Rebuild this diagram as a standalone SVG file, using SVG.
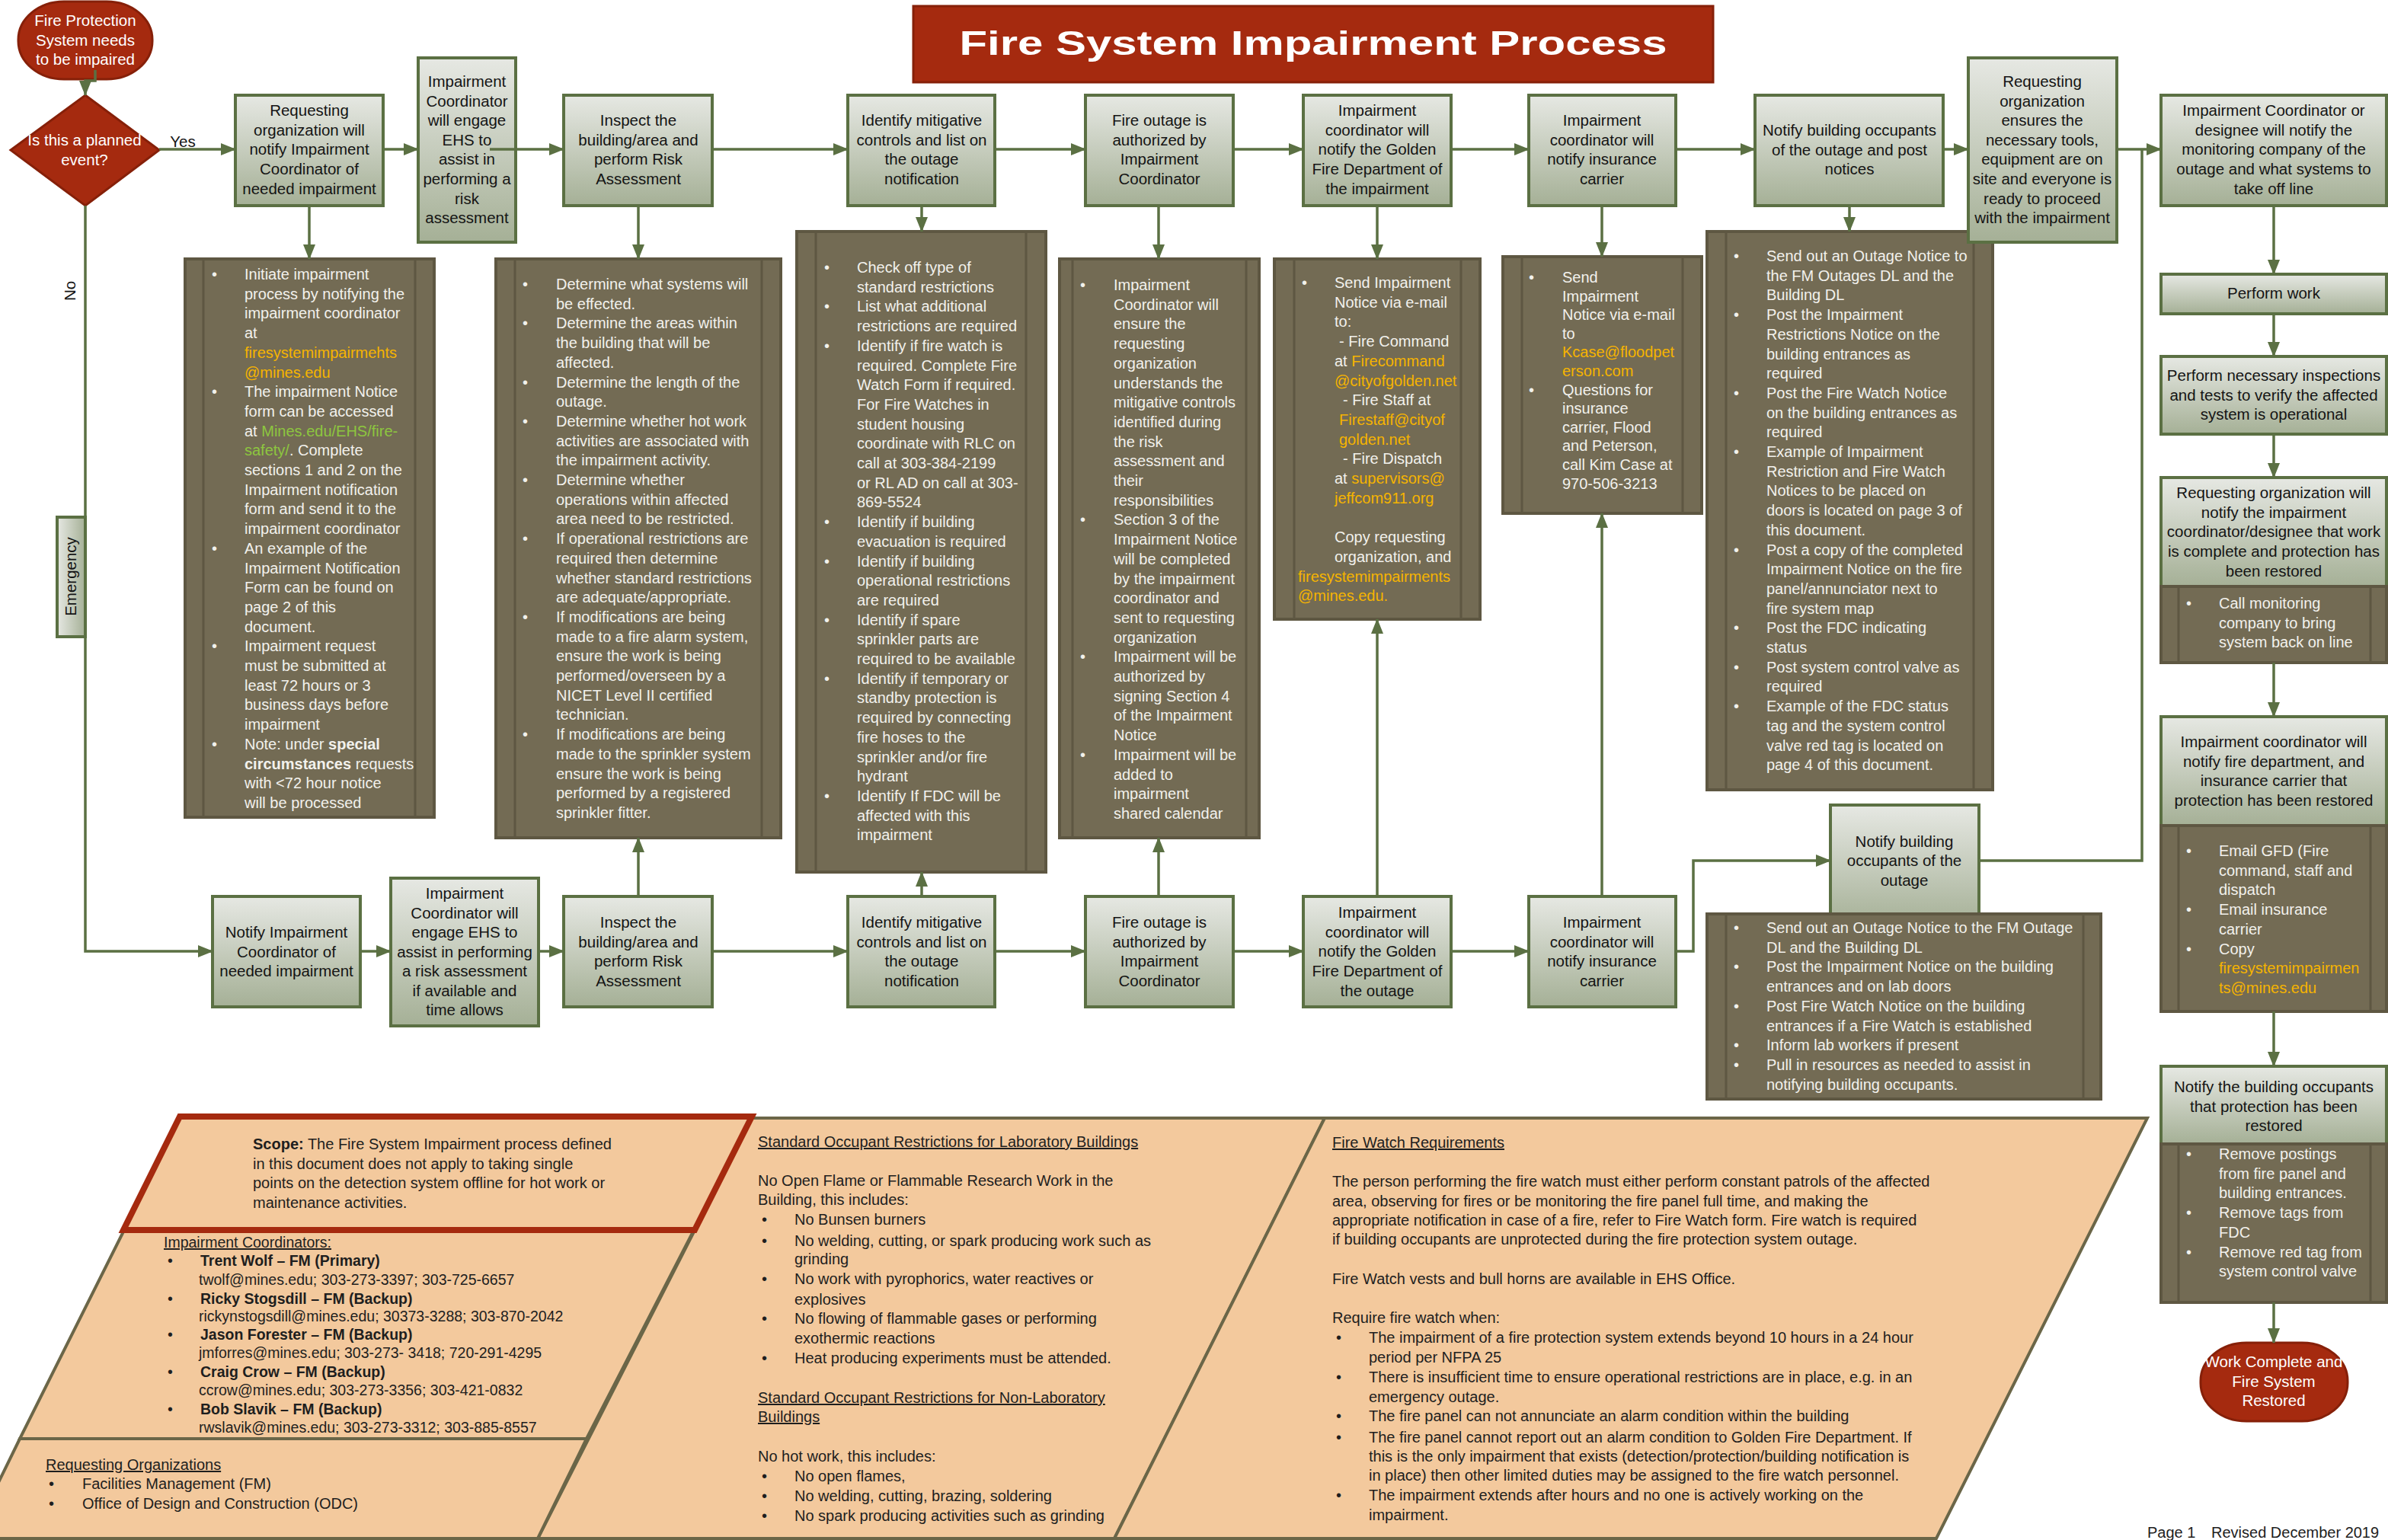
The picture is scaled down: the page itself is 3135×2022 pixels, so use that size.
<svg xmlns="http://www.w3.org/2000/svg" width="3135" height="2022" viewBox="0 0 3135 2022">
<defs>
<linearGradient id="g" x1="0" y1="0" x2="0" y2="1"><stop offset="0" stop-color="#e6e8e3"/><stop offset="1" stop-color="#a5b096"/></linearGradient>
<linearGradient id="gh" x1="0" y1="0" x2="1" y2="0"><stop offset="0" stop-color="#e6e8e3"/><stop offset="1" stop-color="#a5b096"/></linearGradient>
<marker id="ah" viewBox="0 0 20 16" refX="19" refY="8" markerWidth="20" markerHeight="16" orient="auto" markerUnits="userSpaceOnUse"><path d="M0,0 L20,8 L0,16 Z" fill="#5b7043"/></marker>
<style>
.nd{fill:url(#g);stroke:#5b7043;stroke-width:4}
.bx{fill:#736b54;stroke:#5e5742;stroke-width:4}
.il{stroke:#5e5742;stroke-width:3}
.cn{fill:none;stroke:#5b7043;stroke-width:3.5;marker-end:url(#ah)}
.ln{fill:none;stroke:#5b7043;stroke-width:3.5}
.red{fill:#a52a0f;stroke:#862009;stroke-width:3}
.pan{fill:#f3c99d;stroke:#6b6648;stroke-width:4}
text{font-family:"Liberation Sans",Arial,sans-serif}
.nt{font-size:20.5px;fill:#141414;text-anchor:middle}
.wt{font-size:20.5px;fill:#ffffff;text-anchor:middle}
.bt{font-size:20px;fill:#f2f1ec}
.or{fill:#f6b400}
.gr{fill:#8dc63f}
.pt{font-size:20px;fill:#1e1e1e}
.ct{font-size:19.5px;fill:#1e1e1e}
.b{font-weight:bold}
.u{text-decoration:underline}
</style>
</defs>
<rect x="0" y="0" width="3135" height="2022" fill="#ffffff"/>

<g id="title"><rect class="red" x="1199" y="8" width="1050" height="100"/><text x="1724" y="72" text-anchor="middle" font-family="DejaVu Serif, serif" font-weight="bold" font-size="44" fill="#ffffff" textLength="929" lengthAdjust="spacingAndGlyphs">Fire System Impairment Process</text></g>

<g id="panel_middle"><polygon class="pan" points="987,1468 1739,1468 1463,2020 706,2020"/>
<text class="pt"><tspan class="u" x="995" y="1506">Standard Occupant Restrictions for Laboratory Buildings</tspan>
<tspan x="995" y="1557">No Open Flame or Flammable Research Work in the</tspan>
<tspan x="995" y="1582">Building, this includes:</tspan>
<tspan x="1000" y="1608">•</tspan><tspan x="1043">No Bunsen burners</tspan>
<tspan x="1000" y="1636">•</tspan><tspan x="1043">No welding, cutting, or spark producing work such as</tspan>
<tspan x="1043" y="1660">grinding</tspan>
<tspan x="1000" y="1686">•</tspan><tspan x="1043">No work with pyrophorics, water reactives or</tspan>
<tspan x="1043" y="1713">explosives</tspan>
<tspan x="1000" y="1738">•</tspan><tspan x="1043">No flowing of flammable gases or performing</tspan>
<tspan x="1043" y="1764">exothermic reactions</tspan>
<tspan x="1000" y="1790">•</tspan><tspan x="1043">Heat producing experiments must be attended.</tspan>
<tspan class="u" x="995" y="1842">Standard Occupant Restrictions for Non-Laboratory</tspan>
<tspan class="u" x="995" y="1867">Buildings</tspan>
<tspan x="995" y="1919">No hot work, this includes:</tspan>
<tspan x="1000" y="1945">•</tspan><tspan x="1043">No open flames,</tspan>
<tspan x="1000" y="1971">•</tspan><tspan x="1043">No welding, cutting, brazing, soldering</tspan>
<tspan x="1000" y="1997">•</tspan><tspan x="1043">No spark producing activities such as grinding</tspan></text></g>

<g id="panel_firewatch"><polygon class="pan" points="1739,1468 2819,1468 2542,2020 1463,2020"/>
<text class="pt"><tspan class="u" x="1749" y="1507">Fire Watch Requirements</tspan>
<tspan x="1749" y="1558">The person performing the fire watch must either perform constant patrols of the affected</tspan>
<tspan x="1749" y="1584">area, observing for fires or be monitoring the fire panel full time,  and making the</tspan>
<tspan x="1749" y="1609">appropriate notification in case of a fire, refer to Fire Watch form.   Fire watch is required</tspan>
<tspan x="1749" y="1634">if building occupants are unprotected during the fire protection system outage.</tspan>
<tspan x="1749" y="1686">Fire Watch vests and bull horns are available in EHS Office.</tspan>
<tspan x="1749" y="1737">Require fire watch when:</tspan>
<tspan x="1754" y="1763">•</tspan><tspan x="1797">The impairment of a fire protection system extends beyond 10 hours in a 24 hour</tspan>
<tspan x="1797" y="1789">period per NFPA 25</tspan>
<tspan x="1754" y="1815">•</tspan><tspan x="1797">There is insufficient time to ensure operational restrictions are in place, e.g. in an</tspan>
<tspan x="1797" y="1841">emergency outage.</tspan>
<tspan x="1754" y="1866">•</tspan><tspan x="1797">The fire panel can not annunciate an alarm condition within the building</tspan>
<tspan x="1754" y="1894">•</tspan><tspan x="1797">The fire panel cannot report out an alarm condition to Golden Fire Department. If</tspan>
<tspan x="1797" y="1919">this is the only impairment that exists (detection/protection/building notification is</tspan>
<tspan x="1797" y="1944">in place) then other limited duties may be assigned to the fire watch personnel.</tspan>
<tspan x="1754" y="1970">•</tspan><tspan x="1797">The impairment extends after hours and no one is actively working on the</tspan>
<tspan x="1797" y="1996">impairment.</tspan></text></g>

<g id="panel_coordinators"><polygon class="pan" points="162,1617 910,1617 770,1889 26,1889"/>
<text class="ct"><tspan class="u" x="215" y="1638">Impairment Coordinators:</tspan>
<tspan x="220" y="1662">•</tspan><tspan x="263" class="b">Trent Wolf – FM (Primary)</tspan>
<tspan x="261" y="1687">twolf@mines.edu; 303-273-3397; 303-725-6657</tspan>
<tspan x="220" y="1712">•</tspan><tspan x="263" class="b">Ricky Stogsdill – FM (Backup)</tspan>
<tspan x="261" y="1735">rickynstogsdill@mines.edu; 30373-3288; 303-870-2042</tspan>
<tspan x="220" y="1759">•</tspan><tspan x="263" class="b">Jason Forester – FM (Backup)</tspan>
<tspan x="261" y="1783">jmforres@mines.edu; 303-273- 3418; 720-291-4295</tspan>
<tspan x="220" y="1808">•</tspan><tspan x="263" class="b">Craig Crow – FM (Backup)</tspan>
<tspan x="261" y="1832">ccrow@mines.edu; 303-273-3356; 303-421-0832</tspan>
<tspan x="220" y="1857">•</tspan><tspan x="263" class="b">Bob Slavik – FM (Backup)</tspan>
<tspan x="261" y="1881">rwslavik@mines.edu; 303-273-3312; 303-885-8557</tspan></text></g>

<g id="panel_requesting"><polygon class="pan" points="26,1889 770,1889 706,2020 -38,2020"/>
<text class="pt"><tspan class="u" x="60" y="1930">Requesting Organizations</tspan>
<tspan x="64" y="1955">•</tspan><tspan x="108">Facilities Management (FM)</tspan>
<tspan x="64" y="1981">•</tspan><tspan x="108">Office of Design and Construction (ODC)</tspan></text></g>

<g id="panel_scope"><polygon points="236,1466 987,1466 912,1615 162,1615" fill="#f3c99d" stroke="#a52a0f" stroke-width="8"/>
<text class="pt"><tspan x="332" y="1509"><tspan class="b">Scope:</tspan> The Fire System Impairment process defined</tspan>
<tspan x="332" y="1535">in this document does not apply to taking single</tspan>
<tspan x="332" y="1560">points on the detection system offline for hot work  or</tspan>
<tspan x="332" y="1586">maintenance activities.</tspan></text></g>

<g id="d1"><rect class="bx" x="243" y="340" width="327" height="733"/><line class="il" x1="267" y1="342" x2="267" y2="1071"/><line class="il" x1="545" y1="342" x2="545" y2="1071"/>
<text class="bt" y="367"><tspan x="278" dy="0">•</tspan><tspan x="321">Initiate impairment</tspan>
<tspan x="321" dy="25.7">process by notifying the</tspan>
<tspan x="321" dy="25.7">impairment coordinator</tspan>
<tspan x="321" dy="25.7">at</tspan>
<tspan x="321" dy="25.7" class="or">firesystemimpairmehts</tspan>
<tspan x="321" dy="25.7" class="or">@mines.edu</tspan>
<tspan x="278" dy="25.7">•</tspan><tspan x="321">The impairment Notice</tspan>
<tspan x="321" dy="25.7">form can be accessed</tspan>
<tspan x="321" dy="25.7">at <tspan class="gr">Mines.edu/EHS/fire-</tspan></tspan>
<tspan x="321" dy="25.7"><tspan class="gr">safety/</tspan>. Complete</tspan>
<tspan x="321" dy="25.7">sections 1 and 2 on the</tspan>
<tspan x="321" dy="25.7">Impairment notification</tspan>
<tspan x="321" dy="25.7">form and send it to the</tspan>
<tspan x="321" dy="25.7">impairment coordinator</tspan>
<tspan x="278" dy="25.7">•</tspan><tspan x="321">An example of the</tspan>
<tspan x="321" dy="25.7">Impairment Notification</tspan>
<tspan x="321" dy="25.7">Form can be found on</tspan>
<tspan x="321" dy="25.7">page 2 of this</tspan>
<tspan x="321" dy="25.7">document.</tspan>
<tspan x="278" dy="25.7">•</tspan><tspan x="321">Impairment request</tspan>
<tspan x="321" dy="25.7">must be submitted at</tspan>
<tspan x="321" dy="25.7">least 72 hours or 3</tspan>
<tspan x="321" dy="25.7">business days before</tspan>
<tspan x="321" dy="25.7">impairment</tspan>
<tspan x="278" dy="25.7">•</tspan><tspan x="321">Note: under <tspan class="b">special</tspan></tspan>
<tspan x="321" dy="25.7"><tspan class="b">circumstances</tspan> requests</tspan>
<tspan x="321" dy="25.7">with &lt;72 hour notice</tspan>
<tspan x="321" dy="25.7">will be processed</tspan></text></g>

<g id="d2"><rect class="bx" x="651" y="340" width="374" height="760"/><line class="il" x1="676" y1="342" x2="676" y2="1098"/><line class="il" x1="1000" y1="342" x2="1000" y2="1098"/>
<text class="bt" y="380"><tspan x="686" dy="0">•</tspan><tspan x="730">Determine what systems will</tspan>
<tspan x="730" dy="25.7">be effected.</tspan>
<tspan x="686" dy="25.7">•</tspan><tspan x="730">Determine the areas within</tspan>
<tspan x="730" dy="25.7">the building that will be</tspan>
<tspan x="730" dy="25.7">affected.</tspan>
<tspan x="686" dy="25.7">•</tspan><tspan x="730">Determine the length of the</tspan>
<tspan x="730" dy="25.7">outage.</tspan>
<tspan x="686" dy="25.7">•</tspan><tspan x="730">Determine whether hot work</tspan>
<tspan x="730" dy="25.7">activities are associated with</tspan>
<tspan x="730" dy="25.7">the impairment activity.</tspan>
<tspan x="686" dy="25.7">•</tspan><tspan x="730">Determine whether</tspan>
<tspan x="730" dy="25.7">operations within affected</tspan>
<tspan x="730" dy="25.7">area need to be restricted.</tspan>
<tspan x="686" dy="25.7">•</tspan><tspan x="730">If operational restrictions are</tspan>
<tspan x="730" dy="25.7">required then determine</tspan>
<tspan x="730" dy="25.7">whether standard restrictions</tspan>
<tspan x="730" dy="25.7">are adequate/appropriate.</tspan>
<tspan x="686" dy="25.7">•</tspan><tspan x="730">If modifications are being</tspan>
<tspan x="730" dy="25.7">made to a fire alarm system,</tspan>
<tspan x="730" dy="25.7">ensure the work is being</tspan>
<tspan x="730" dy="25.7">performed/overseen by a</tspan>
<tspan x="730" dy="25.7">NICET Level II certified</tspan>
<tspan x="730" dy="25.7">technician.</tspan>
<tspan x="686" dy="25.7">•</tspan><tspan x="730">If modifications are being</tspan>
<tspan x="730" dy="25.7">made to the sprinkler system</tspan>
<tspan x="730" dy="25.7">ensure the work is being</tspan>
<tspan x="730" dy="25.7">performed by a registered</tspan>
<tspan x="730" dy="25.7">sprinkler fitter.</tspan></text></g>

<g id="d3"><rect class="bx" x="1046" y="304" width="327" height="841"/><line class="il" x1="1071" y1="306" x2="1071" y2="1143"/><line class="il" x1="1347" y1="306" x2="1347" y2="1143"/>
<text class="bt" y="358"><tspan x="1082" dy="0">•</tspan><tspan x="1125">Check off type of</tspan>
<tspan x="1125" dy="25.7">standard restrictions</tspan>
<tspan x="1082" dy="25.7">•</tspan><tspan x="1125">List what additional</tspan>
<tspan x="1125" dy="25.7">restrictions are required</tspan>
<tspan x="1082" dy="25.7">•</tspan><tspan x="1125">Identify if fire watch is</tspan>
<tspan x="1125" dy="25.7">required. Complete Fire</tspan>
<tspan x="1125" dy="25.7">Watch Form if required.</tspan>
<tspan x="1125" dy="25.7">For Fire Watches in</tspan>
<tspan x="1125" dy="25.7">student housing</tspan>
<tspan x="1125" dy="25.7">coordinate with RLC on</tspan>
<tspan x="1125" dy="25.7">call at 303-384-2199</tspan>
<tspan x="1125" dy="25.7">or RL AD on call at 303-</tspan>
<tspan x="1125" dy="25.7">869-5524</tspan>
<tspan x="1082" dy="25.7">•</tspan><tspan x="1125">Identify if building</tspan>
<tspan x="1125" dy="25.7">evacuation is required</tspan>
<tspan x="1082" dy="25.7">•</tspan><tspan x="1125">Identify if building</tspan>
<tspan x="1125" dy="25.7">operational restrictions</tspan>
<tspan x="1125" dy="25.7">are required</tspan>
<tspan x="1082" dy="25.7">•</tspan><tspan x="1125">Identify if spare</tspan>
<tspan x="1125" dy="25.7">sprinkler parts are</tspan>
<tspan x="1125" dy="25.7">required to be available</tspan>
<tspan x="1082" dy="25.7">•</tspan><tspan x="1125">Identify if  temporary or</tspan>
<tspan x="1125" dy="25.7">standby protection is</tspan>
<tspan x="1125" dy="25.7">required by connecting</tspan>
<tspan x="1125" dy="25.7">fire hoses to the</tspan>
<tspan x="1125" dy="25.7">sprinkler and/or fire</tspan>
<tspan x="1125" dy="25.7">hydrant</tspan>
<tspan x="1082" dy="25.7">•</tspan><tspan x="1125">Identify If FDC will be</tspan>
<tspan x="1125" dy="25.7">affected with this</tspan>
<tspan x="1125" dy="25.7">impairment</tspan></text></g>

<g id="d4"><rect class="bx" x="1391" y="340" width="262" height="760"/><line class="il" x1="1408" y1="342" x2="1408" y2="1098"/><line class="il" x1="1636" y1="342" x2="1636" y2="1098"/>
<text class="bt" y="381"><tspan x="1418" dy="0">•</tspan><tspan x="1462">Impairment</tspan>
<tspan x="1462" dy="25.7">Coordinator will</tspan>
<tspan x="1462" dy="25.7">ensure the</tspan>
<tspan x="1462" dy="25.7">requesting</tspan>
<tspan x="1462" dy="25.7">organization</tspan>
<tspan x="1462" dy="25.7">understands the</tspan>
<tspan x="1462" dy="25.7">mitigative controls</tspan>
<tspan x="1462" dy="25.7">identified during</tspan>
<tspan x="1462" dy="25.7">the risk</tspan>
<tspan x="1462" dy="25.7">assessment and</tspan>
<tspan x="1462" dy="25.7">their</tspan>
<tspan x="1462" dy="25.7">responsibilities</tspan>
<tspan x="1418" dy="25.7">•</tspan><tspan x="1462">Section 3 of the</tspan>
<tspan x="1462" dy="25.7">Impairment Notice</tspan>
<tspan x="1462" dy="25.7">will be completed</tspan>
<tspan x="1462" dy="25.7">by the impairment</tspan>
<tspan x="1462" dy="25.7">coordinator and</tspan>
<tspan x="1462" dy="25.7">sent to requesting</tspan>
<tspan x="1462" dy="25.7">organization</tspan>
<tspan x="1418" dy="25.7">•</tspan><tspan x="1462">Impairment will be</tspan>
<tspan x="1462" dy="25.7">authorized by</tspan>
<tspan x="1462" dy="25.7">signing Section 4</tspan>
<tspan x="1462" dy="25.7">of the Impairment</tspan>
<tspan x="1462" dy="25.7">Notice</tspan>
<tspan x="1418" dy="25.7">•</tspan><tspan x="1462">Impairment will be</tspan>
<tspan x="1462" dy="25.7">added to</tspan>
<tspan x="1462" dy="25.7">impairment</tspan>
<tspan x="1462" dy="25.7">shared calendar</tspan></text></g>

<g id="d5"><rect class="bx" x="1673" y="340" width="270" height="473"/><line class="il" x1="1699" y1="342" x2="1699" y2="811"/><line class="il" x1="1918" y1="342" x2="1918" y2="811"/>
<text class="bt" y="378"><tspan x="1709" dy="0">•</tspan><tspan x="1752">Send Impairment</tspan>
<tspan x="1752" dy="25.7">Notice via e-mail</tspan>
<tspan x="1752" dy="25.7">to:</tspan>
<tspan x="1758" dy="25.7">-  Fire Command</tspan>
<tspan x="1752" dy="25.7">at <tspan class="or">Firecommand</tspan></tspan>
<tspan x="1752" dy="25.7" class="or">@cityofgolden.net</tspan>
<tspan x="1763" dy="25.7">- Fire Staff at</tspan>
<tspan x="1758" dy="25.7" class="or">Firestaff@cityof</tspan>
<tspan x="1758" dy="25.7" class="or">golden.net</tspan>
<tspan x="1763" dy="25.7">- Fire Dispatch</tspan>
<tspan x="1752" dy="25.7">at <tspan class="or">supervisors@</tspan></tspan>
<tspan x="1752" dy="25.7" class="or">jeffcom911.org</tspan>
<tspan x="1752" dy="51.4">Copy requesting</tspan>
<tspan x="1752" dy="25.7">organization, and</tspan>
<tspan x="1704" dy="25.7" class="or">firesystemimpairments</tspan>
<tspan x="1704" dy="25.7" class="or">@mines.edu.</tspan></text></g>

<g id="d6"><rect class="bx" x="1973" y="337" width="261" height="337"/><line class="il" x1="1998" y1="339" x2="1998" y2="672"/><line class="il" x1="2209" y1="339" x2="2209" y2="672"/>
<text class="bt" y="371"><tspan x="2007" dy="0">•</tspan><tspan x="2051">Send</tspan>
<tspan x="2051" dy="24.6">Impairment</tspan>
<tspan x="2051" dy="24.6">Notice via e-mail</tspan>
<tspan x="2051" dy="24.6">to</tspan>
<tspan x="2051" dy="24.6" class="or">Kcase@floodpet</tspan>
<tspan x="2051" dy="24.6" class="or">erson.com</tspan>
<tspan x="2007" dy="24.6">•</tspan><tspan x="2051">Questions for</tspan>
<tspan x="2051" dy="24.6">insurance</tspan>
<tspan x="2051" dy="24.6">carrier, Flood</tspan>
<tspan x="2051" dy="24.6">and Peterson,</tspan>
<tspan x="2051" dy="24.6">call Kim Case at</tspan>
<tspan x="2051" dy="24.6">970-506-3213</tspan></text></g>

<g id="d7"><rect class="bx" x="2241" y="304" width="375" height="733"/><line class="il" x1="2266" y1="306" x2="2266" y2="1035"/><line class="il" x1="2591" y1="306" x2="2591" y2="1035"/>
<text class="bt" y="343"><tspan x="2276" dy="0">•</tspan><tspan x="2319">Send out an Outage Notice to</tspan>
<tspan x="2319" dy="25.7">the FM Outages DL  and the</tspan>
<tspan x="2319" dy="25.7">Building DL</tspan>
<tspan x="2276" dy="25.7">•</tspan><tspan x="2319">Post the Impairment</tspan>
<tspan x="2319" dy="25.7">Restrictions Notice on the</tspan>
<tspan x="2319" dy="25.7">building entrances as</tspan>
<tspan x="2319" dy="25.7">required</tspan>
<tspan x="2276" dy="25.7">•</tspan><tspan x="2319">Post the Fire Watch Notice</tspan>
<tspan x="2319" dy="25.7">on the building entrances as</tspan>
<tspan x="2319" dy="25.7">required</tspan>
<tspan x="2276" dy="25.7">•</tspan><tspan x="2319">Example of Impairment</tspan>
<tspan x="2319" dy="25.7">Restriction  and Fire Watch</tspan>
<tspan x="2319" dy="25.7">Notices to be placed on</tspan>
<tspan x="2319" dy="25.7">doors is located on page 3 of</tspan>
<tspan x="2319" dy="25.7">this document.</tspan>
<tspan x="2276" dy="25.7">•</tspan><tspan x="2319">Post a copy of the completed</tspan>
<tspan x="2319" dy="25.7">Impairment Notice on the fire</tspan>
<tspan x="2319" dy="25.7">panel/annunciator next to</tspan>
<tspan x="2319" dy="25.7">fire system  map</tspan>
<tspan x="2276" dy="25.7">•</tspan><tspan x="2319">Post the FDC indicating</tspan>
<tspan x="2319" dy="25.7">status</tspan>
<tspan x="2276" dy="25.7">•</tspan><tspan x="2319">Post system control valve as</tspan>
<tspan x="2319" dy="25.7">required</tspan>
<tspan x="2276" dy="25.7">•</tspan><tspan x="2319">Example of the FDC status</tspan>
<tspan x="2319" dy="25.7">tag and the system control</tspan>
<tspan x="2319" dy="25.7">valve red tag is located on</tspan>
<tspan x="2319" dy="25.7">page 4 of this document.</tspan></text></g>

<g id="n_start"><rect class="red" x="24" y="2" width="176" height="102" rx="60" ry="50"/><text class="wt" font-size="21"><tspan x="112" y="34">Fire Protection</tspan><tspan x="112" dy="25.7">System needs</tspan><tspan x="112" dy="25.7">to be impaired</tspan></text></g>
<g id="n_decision"><polygon class="red" points="112,125 209,197 112,270 14,197"/><text class="wt"><tspan x="111" y="191">Is this a planned</tspan><tspan x="111" dy="25.7">event?</tspan></text></g>
<g id="n_req"><rect class="nd" x="309" y="125" width="194" height="145"/><text class="nt"><tspan x="406" y="152">Requesting</tspan><tspan x="406" dy="25.7">organization will</tspan><tspan x="406" dy="25.7">notify Impairment</tspan><tspan x="406" dy="25.7">Coordinator of</tspan><tspan x="406" dy="25.7">needed impairment</tspan></text></g>
<g id="n_ehs"><rect class="nd" x="549" y="76" width="128" height="242"/><text class="nt"><tspan x="613" y="114">Impairment</tspan><tspan x="613" dy="25.6">Coordinator</tspan><tspan x="613" dy="25.6">will engage</tspan><tspan x="613" dy="25.6">EHS to</tspan><tspan x="613" dy="25.6">assist in</tspan><tspan x="613" dy="25.6">performing a</tspan><tspan x="613" dy="25.6">risk</tspan><tspan x="613" dy="25.6">assessment</tspan></text></g>
<g id="n_inspect"><rect class="nd" x="740" y="125" width="195" height="145"/><text class="nt"><tspan x="838" y="165">Inspect the</tspan><tspan x="838" dy="25.7">building/area and</tspan><tspan x="838" dy="25.7">perform Risk</tspan><tspan x="838" dy="25.7">Assessment</tspan></text></g>
<g id="n_mitigate"><rect class="nd" x="1113" y="125" width="193" height="145"/><text class="nt"><tspan x="1210" y="165">Identify mitigative</tspan><tspan x="1210" dy="25.7">controls and list on</tspan><tspan x="1210" dy="25.7">the outage</tspan><tspan x="1210" dy="25.7">notification</tspan></text></g>
<g id="n_authorize"><rect class="nd" x="1425" y="125" width="194" height="145"/><text class="nt"><tspan x="1522" y="165">Fire outage is</tspan><tspan x="1522" dy="25.7">authorized by</tspan><tspan x="1522" dy="25.7">Impairment</tspan><tspan x="1522" dy="25.7">Coordinator</tspan></text></g>
<g id="n_golden"><rect class="nd" x="1711" y="125" width="194" height="145"/><text class="nt"><tspan x="1808" y="152">Impairment</tspan><tspan x="1808" dy="25.7">coordinator will</tspan><tspan x="1808" dy="25.7">notify the Golden</tspan><tspan x="1808" dy="25.7">Fire Department of</tspan><tspan x="1808" dy="25.7">the impairment</tspan></text></g>
<g id="n_insurance"><rect class="nd" x="2007" y="125" width="193" height="145"/><text class="nt"><tspan x="2103" y="165">Impairment</tspan><tspan x="2103" dy="25.7">coordinator will</tspan><tspan x="2103" dy="25.7">notify  insurance</tspan><tspan x="2103" dy="25.7">carrier</tspan></text></g>
<g id="n_occupants"><rect class="nd" x="2304" y="125" width="247" height="145"/><text class="nt"><tspan x="2428" y="178">Notify building occupants</tspan><tspan x="2428" dy="25.7">of the outage and post</tspan><tspan x="2428" dy="25.7">notices</tspan></text></g>
<g id="n_tools"><rect class="nd" x="2584" y="76" width="195" height="242"/><text class="nt"><tspan x="2681" y="114">Requesting</tspan><tspan x="2681" dy="25.6">organization</tspan><tspan x="2681" dy="25.6">ensures the</tspan><tspan x="2681" dy="25.6">necessary tools,</tspan><tspan x="2681" dy="25.6">equipment are on</tspan><tspan x="2681" dy="25.6">site and everyone is</tspan><tspan x="2681" dy="25.6">ready to proceed</tspan><tspan x="2681" dy="25.6">with the impairment</tspan></text></g>
<g id="n_monitor"><rect class="nd" x="2837" y="125" width="296" height="145"/><text class="nt"><tspan x="2985" y="152">Impairment Coordinator or</tspan><tspan x="2985" dy="25.7">designee will notify the</tspan><tspan x="2985" dy="25.7">monitoring company of the</tspan><tspan x="2985" dy="25.7">outage and what systems to</tspan><tspan x="2985" dy="25.7">take off line</tspan></text></g>
<g id="n_work"><rect class="nd" x="2837" y="360" width="296" height="52"/><text class="nt" x="2985" y="392">Perform work</text></g>
<g id="n_tests"><rect class="nd" x="2837" y="468" width="296" height="102"/><text class="nt"><tspan x="2985" y="500">Perform necessary inspections</tspan><tspan x="2985" dy="25.7">and tests to verify the affected</tspan><tspan x="2985" dy="25.7">system is operational</tspan></text></g>
<g id="n_complete"><rect class="nd" x="2837" y="627" width="296" height="143"/><text class="nt"><tspan x="2985" y="654">Requesting organization will</tspan><tspan x="2985" dy="25.7">notify the  impairment</tspan><tspan x="2985" dy="25.7">coordinator/designee that work</tspan><tspan x="2985" dy="25.7">is complete and protection has</tspan><tspan x="2985" dy="25.7">been restored</tspan></text>
<rect class="bx" x="2837" y="770" width="296" height="100"/><line class="il" x1="2860" y1="772" x2="2860" y2="868"/><line class="il" x1="3112" y1="772" x2="3112" y2="868"/>
<text class="bt" y="799"><tspan x="2870" dy="0">•</tspan><tspan x="2913">Call monitoring</tspan><tspan x="2913" dy="25.7">company to bring</tspan><tspan x="2913" dy="25.7">system back on line</tspan></text></g>
<g id="n_restored"><rect class="nd" x="2837" y="941" width="296" height="143"/><text class="nt"><tspan x="2985" y="981">Impairment coordinator will</tspan><tspan x="2985" dy="25.7">notify  fire department, and</tspan><tspan x="2985" dy="25.7">insurance carrier  that</tspan><tspan x="2985" dy="25.7">protection has been restored</tspan></text>
<rect class="bx" x="2837" y="1084" width="296" height="244"/><line class="il" x1="2860" y1="1086" x2="2860" y2="1326"/><line class="il" x1="3112" y1="1086" x2="3112" y2="1326"/>
<text class="bt" y="1124"><tspan x="2870" dy="0">•</tspan><tspan x="2913">Email GFD (Fire</tspan><tspan x="2913" dy="25.7">command, staff and</tspan><tspan x="2913" dy="25.7">dispatch</tspan><tspan x="2870" dy="25.7">•</tspan><tspan x="2913">Email insurance</tspan><tspan x="2913" dy="25.7">carrier</tspan><tspan x="2870" dy="25.7">•</tspan><tspan x="2913">Copy</tspan><tspan x="2913" dy="25.7" class="or">firesystemimpairmen</tspan><tspan x="2913" dy="25.7" class="or">ts@mines.edu</tspan></text></g>
<g id="n_notify_restored"><rect class="nd" x="2837" y="1400" width="296" height="102"/><text class="nt"><tspan x="2985" y="1434">Notify the  building occupants</tspan><tspan x="2985" dy="25.7">that protection has been</tspan><tspan x="2985" dy="25.7">restored</tspan></text>
<rect class="bx" x="2837" y="1502" width="296" height="208"/><line class="il" x1="2860" y1="1504" x2="2860" y2="1708"/><line class="il" x1="3112" y1="1504" x2="3112" y2="1708"/>
<text class="bt" y="1522"><tspan x="2870" dy="0">•</tspan><tspan x="2913">Remove postings</tspan><tspan x="2913" dy="25.7">from fire panel and</tspan><tspan x="2913" dy="25.7">building entrances.</tspan><tspan x="2870" dy="25.7">•</tspan><tspan x="2913">Remove tags from</tspan><tspan x="2913" dy="25.7">FDC</tspan><tspan x="2870" dy="25.7">•</tspan><tspan x="2913">Remove red tag from</tspan><tspan x="2913" dy="25.7">system control valve</tspan></text></g>
<g id="n_end"><rect class="red" x="2889" y="1763" width="193" height="103" rx="60" ry="50"/><text class="wt"><tspan x="2985" y="1795">Work Complete and</tspan><tspan x="2985" dy="25.7">Fire System</tspan><tspan x="2985" dy="25.7">Restored</tspan></text></g>

<g id="n_emergency"><rect x="75" y="679" width="37" height="157" fill="url(#gh)" stroke="#5b7043" stroke-width="4"/><text class="nt" x="93" y="764" transform="rotate(-90 93 757)">Emergency</text></g>
<g id="e_notify"><rect class="nd" x="279" y="1177" width="194" height="145"/><text class="nt"><tspan x="376" y="1231">Notify Impairment</tspan><tspan x="376" dy="25.7">Coordinator of</tspan><tspan x="376" dy="25.7">needed impairment</tspan></text></g>
<g id="e_ehs"><rect class="nd" x="513" y="1153" width="194" height="194"/><text class="nt"><tspan x="610" y="1180">Impairment</tspan><tspan x="610" dy="25.5">Coordinator will</tspan><tspan x="610" dy="25.5">engage EHS to</tspan><tspan x="610" dy="25.5">assist in performing</tspan><tspan x="610" dy="25.5">a risk assessment</tspan><tspan x="610" dy="25.5">if available and</tspan><tspan x="610" dy="25.5">time allows</tspan></text></g>
<g id="e_inspect"><rect class="nd" x="740" y="1177" width="195" height="145"/><text class="nt"><tspan x="838" y="1218">Inspect the</tspan><tspan x="838" dy="25.7">building/area and</tspan><tspan x="838" dy="25.7">perform Risk</tspan><tspan x="838" dy="25.7">Assessment</tspan></text></g>
<g id="e_mitigate"><rect class="nd" x="1113" y="1177" width="193" height="145"/><text class="nt"><tspan x="1210" y="1218">Identify mitigative</tspan><tspan x="1210" dy="25.7">controls and list on</tspan><tspan x="1210" dy="25.7">the outage</tspan><tspan x="1210" dy="25.7">notification</tspan></text></g>
<g id="e_authorize"><rect class="nd" x="1425" y="1177" width="194" height="145"/><text class="nt"><tspan x="1522" y="1218">Fire outage is</tspan><tspan x="1522" dy="25.7">authorized by</tspan><tspan x="1522" dy="25.7">Impairment</tspan><tspan x="1522" dy="25.7">Coordinator</tspan></text></g>
<g id="e_golden"><rect class="nd" x="1711" y="1177" width="194" height="145"/><text class="nt"><tspan x="1808" y="1205">Impairment</tspan><tspan x="1808" dy="25.7">coordinator will</tspan><tspan x="1808" dy="25.7">notify the Golden</tspan><tspan x="1808" dy="25.7">Fire Department of</tspan><tspan x="1808" dy="25.7">the outage</tspan></text></g>
<g id="e_insurance"><rect class="nd" x="2007" y="1177" width="193" height="145"/><text class="nt"><tspan x="2103" y="1218">Impairment</tspan><tspan x="2103" dy="25.7">coordinator will</tspan><tspan x="2103" dy="25.7">notify insurance</tspan><tspan x="2103" dy="25.7">carrier</tspan></text></g>
<g id="e_occupants"><rect class="nd" x="2403" y="1057" width="195" height="160"/><text class="nt"><tspan x="2500" y="1112">Notify building</tspan><tspan x="2500" dy="25.3">occupants of the</tspan><tspan x="2500" dy="25.3">outage</tspan></text></g>

<g id="d8"><rect class="bx" x="2241" y="1200" width="517" height="243"/><line class="il" x1="2266" y1="1202" x2="2266" y2="1441"/><line class="il" x1="2735" y1="1202" x2="2735" y2="1441"/>
<text class="bt" y="1225"><tspan x="2276" dy="0">•</tspan><tspan x="2319">Send out an Outage Notice to the FM Outage</tspan>
<tspan x="2319" dy="25.7">DL and the Building DL</tspan>
<tspan x="2276" dy="25.7">•</tspan><tspan x="2319">Post the Impairment Notice on the building</tspan>
<tspan x="2319" dy="25.7">entrances and on lab doors</tspan>
<tspan x="2276" dy="25.7">•</tspan><tspan x="2319">Post Fire Watch Notice on the building</tspan>
<tspan x="2319" dy="25.7">entrances if a Fire Watch is established</tspan>
<tspan x="2276" dy="25.7">•</tspan><tspan x="2319">Inform lab workers if present</tspan>
<tspan x="2276" dy="25.7">•</tspan><tspan x="2319">Pull in resources as needed to assist in</tspan>
<tspan x="2319" dy="25.7">notifying building occupants.</tspan></text></g>

<g id="connectors">
<path class="cn" d="M125,92 V106 H112 V125"/>
<path class="cn" d="M209,196 H309"/>
<path class="cn" d="M503,196 H549"/>
<path class="cn" d="M643,196 H740"/>
<path class="cn" d="M935,196 H1113"/>
<path class="cn" d="M1306,196 H1425"/>
<path class="cn" d="M1619,196 H1711"/>
<path class="cn" d="M1905,196 H2007"/>
<path class="cn" d="M2200,196 H2304"/>
<path class="cn" d="M2551,196 H2584"/>
<path class="cn" d="M2779,196 H2837"/>
<path class="cn" d="M406,270 V340"/>
<path class="cn" d="M838,270 V340"/>
<path class="cn" d="M1210,270 V304"/>
<path class="cn" d="M1521,270 V340"/>
<path class="cn" d="M1808,270 V340"/>
<path class="cn" d="M2103,270 V337"/>
<path class="cn" d="M2428,270 V304"/>
<path class="cn" d="M2985,270 V360"/>
<path class="cn" d="M2985,412 V468"/>
<path class="cn" d="M2985,570 V627"/>
<path class="cn" d="M2985,870 V941"/>
<path class="cn" d="M2985,1328 V1400"/>
<path class="cn" d="M2985,1710 V1763"/>
<path class="cn" d="M112,270 V1249 H279"/>
<path class="cn" d="M473,1249 H513"/>
<path class="cn" d="M707,1249 H740"/>
<path class="cn" d="M935,1249 H1113"/>
<path class="cn" d="M1306,1249 H1425"/>
<path class="cn" d="M1619,1249 H1711"/>
<path class="cn" d="M1905,1249 H2007"/>
<path class="cn" d="M838,1177 V1100"/>
<path class="cn" d="M1210,1177 V1145"/>
<path class="cn" d="M1521,1177 V1100"/>
<path class="cn" d="M1808,1177 V813"/>
<path class="cn" d="M2103,1177 V674"/>
<path class="cn" d="M2200,1249 H2223 V1130 H2403"/>
<path class="ln" d="M2598,1130 H2812 V196"/>
<text class="nt" x="240" y="193">Yes</text>
<text class="nt" x="92" y="389" transform="rotate(-90 92 382)">No</text>
</g>

<g id="footer"><text class="pt" x="2819" y="2019">Page 1</text><text class="pt" x="2903" y="2019">Revised December 2019</text></g>
</svg>
